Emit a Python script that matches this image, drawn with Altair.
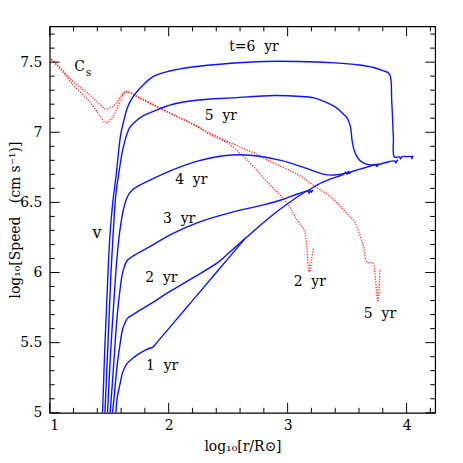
import altair as alt
import pandas as pd

# ---------------- data ----------------
# blue: flow speed v for t = 1..6 yr  (x = log10 r/Rsun, y = log10 speed)
v1_x = [1.556, 1.569, 1.59, 1.611, 1.635, 1.653, 1.70, 1.736, 1.80, 1.847, 1.862, 1.875, 1.90, 2.0, 2.2, 2.4, 2.64]
v1_y = [5.0, 5.117, 5.2, 5.283, 5.33, 5.354, 5.39, 5.413, 5.445, 5.462, 5.465, 5.475, 5.50, 5.60, 5.80, 6.0, 6.24]

v2_x = [1.528, 1.542, 1.569, 1.59, 1.611, 1.635, 1.653, 1.70, 1.736, 1.875, 2.0, 2.2, 2.417, 2.5, 2.64, 2.833, 3.0, 3.17, 3.18, 3.19, 3.2, 3.21]
v2_y = [5.0, 5.117, 5.354, 5.48, 5.59, 5.645, 5.673, 5.70, 5.72, 5.791, 5.86, 5.96, 6.074, 6.135, 6.24, 6.382, 6.49, 6.58, 6.565, 6.585, 6.572, 6.59]

v3_x = [1.508, 1.53, 1.55, 1.569, 1.59, 1.611, 1.635, 1.653, 1.708, 1.833, 2.028, 2.25, 2.528, 2.806, 2.944, 3.083, 3.18, 3.25, 3.361, 3.472, 3.49, 3.50, 3.51, 3.52, 3.53]
v3_y = [5.0, 5.25, 5.5, 5.708, 5.87, 5.992, 6.06, 6.087, 6.122, 6.181, 6.276, 6.358, 6.429, 6.484, 6.517, 6.56, 6.59, 6.625, 6.667, 6.702, 6.715, 6.70, 6.72, 6.705, 6.715]

v4_x = [1.486, 1.51, 1.542, 1.565, 1.59, 1.62, 1.653, 1.69, 1.75, 1.833, 2.028, 2.25, 2.528, 2.694, 2.944, 3.139, 3.306, 3.389, 3.472, 3.5, 3.6, 3.7, 3.74, 3.75, 3.76, 3.77]
v4_y = [5.0, 5.4, 5.83, 6.1, 6.3, 6.45, 6.54, 6.585, 6.62, 6.655, 6.73, 6.796, 6.838, 6.836, 6.80, 6.748, 6.70, 6.695, 6.705, 6.71, 6.735, 6.76, 6.77, 6.755, 6.772, 6.765]

v5_x = [1.464, 1.49, 1.515, 1.535, 1.555, 1.583, 1.61, 1.639, 1.67, 1.708, 1.78, 1.875, 2.028, 2.25, 2.528, 2.889, 3.083, 3.222, 3.361, 3.417, 3.472, 3.5, 3.528, 3.542, 3.561, 3.597, 3.64, 3.667, 3.694, 3.76, 3.85, 3.90, 3.91, 3.92, 3.93]
v5_y = [5.0, 5.5, 6.0, 6.3, 6.55, 6.72, 6.86, 6.96, 7.03, 7.067, 7.115, 7.15, 7.198, 7.23, 7.245, 7.262, 7.257, 7.245, 7.198, 7.17, 7.127, 7.103, 7.04, 6.94, 6.867, 6.808, 6.78, 6.772, 6.767, 6.77, 6.79, 6.795, 6.78, 6.80, 6.80]

v6_x = [1.444, 1.465, 1.485, 1.505, 1.53, 1.556, 1.597, 1.625, 1.653, 1.69, 1.736, 1.80, 1.875, 2.0, 2.2, 2.5, 2.8, 3.083, 3.4, 3.6, 3.722, 3.8, 3.856, 3.875, 3.889, 3.897, 3.94, 3.95, 3.96, 4.0, 4.04, 4.045, 4.05, 4.056]
v6_y = [5.0, 5.5, 5.9, 6.25, 6.5, 6.677, 6.985, 7.09, 7.174, 7.24, 7.292, 7.35, 7.40, 7.435, 7.465, 7.49, 7.505, 7.505, 7.495, 7.48, 7.462, 7.44, 7.415, 7.221, 6.96, 6.824, 6.824, 6.81, 6.826, 6.826, 6.826, 6.81, 6.83, 6.826]

# red dotted: sound speed c_s at t = 2 yr and 5 yr
c2_x = [1.0, 1.1, 1.194, 1.333, 1.42, 1.472, 1.52, 1.556, 1.60, 1.64, 1.75, 1.972, 2.25, 2.333, 2.5, 2.65, 2.833, 3.0, 3.083, 3.139, 3.161, 3.181, 3.20, 3.217]
c2_y = [7.535, 7.45, 7.363, 7.269, 7.20, 7.165, 7.18, 7.205, 7.26, 7.292, 7.245, 7.15, 7.035, 6.99, 6.92, 6.81, 6.642, 6.489, 6.37, 6.30, 6.181, 6.004, 6.09, 6.17]

c5_x = [1.0, 1.1, 1.194, 1.333, 1.42, 1.472, 1.52, 1.556, 1.60, 1.64, 1.75, 1.972, 2.25, 2.333, 2.611, 2.75, 2.833, 3.083, 3.222, 3.361, 3.5, 3.556, 3.583, 3.639, 3.667, 3.717, 3.736, 3.758, 3.765, 3.778]
c5_y = [7.53, 7.44, 7.34, 7.221, 7.12, 7.067, 7.10, 7.15, 7.24, 7.285, 7.25, 7.155, 7.04, 7.00, 6.89, 6.84, 6.80, 6.70, 6.618, 6.54, 6.42, 6.37, 6.323, 6.181, 6.075, 6.067, 5.968, 5.79, 5.85, 6.028]

# annotation labels
lab_text = ["t=6\u00a0\u00a0yr", "5\u00a0\u00a0yr", "4\u00a0\u00a0yr", "3\u00a0\u00a0yr", "2\u00a0\u00a0yr", "1\u00a0\u00a0yr",
            "2\u00a0\u00a0yr", "5\u00a0\u00a0yr"]
lab_x = [2.717, 2.439, 2.19, 2.088, 1.939, 1.945, 3.186, 3.776]
lab_y = [7.611, 7.115, 6.661, 6.382, 5.962, 5.331, 5.933, 5.702]

x_ticks_major = [1, 2, 3, 4]
x_ticks_minor = [1.2, 1.4, 1.6, 1.8, 2.2, 2.4, 2.6, 2.8, 3.2, 3.4, 3.6, 3.8, 4.2]
y_ticks_major = [5, 5.5, 6, 6.5, 7, 7.5]
y_ticks_minor = [round(5 + 0.1 * i, 1) for i in range(1, 28) if i % 5 != 0]

# ---------------- build ----------------
W, H = 388, 389
XD = [1, 4.24]
YD = [5, 7.755]
FONT = "DejaVu Serif"

rows = []
for name, xs_, ys_ in [("1", v1_x, v1_y), ("2", v2_x, v2_y), ("3", v3_x, v3_y),
                       ("4", v4_x, v4_y), ("5", v5_x, v5_y), ("6", v6_x, v6_y)]:
    for i, (a, b) in enumerate(zip(xs_, ys_)):
        rows.append({"s": name, "o": i, "x": a, "y": b})
blue = pd.DataFrame(rows)

rows = []
for name, xs_, ys_ in [("c2", c2_x, c2_y), ("c5", c5_x, c5_y)]:
    for i, (a, b) in enumerate(zip(xs_, ys_)):
        rows.append({"s": name, "o": i, "x": a, "y": b})
red = pd.DataFrame(rows)

labels = pd.DataFrame({"x": lab_x, "y": lab_y, "t": lab_text})

xs = alt.Scale(domain=XD, nice=False, zero=False)
ys = alt.Scale(domain=YD, nice=False, zero=False)

xax = alt.Axis(values=x_ticks_major, format="~g", title="log\u2081\u2080[r/R\u2299]",
               labelPadding=6, titleY=27, titleBaseline="top")
yax = alt.Axis(values=y_ticks_major, format="~g",
               title="log\u2081\u2080[Speed\u00a0\u00a0\u00a0(cm s\u207b\u00b9)]",
               labelPadding=8, titleX=-34, titleY=H / 2, titleBaseline="middle", titleAngle=270)

base_x = alt.X("x:Q", scale=xs, axis=xax)
base_y = alt.Y("y:Q", scale=ys, axis=yax)

blue_l = alt.Chart(blue).mark_line(color="#0a14ff", strokeWidth=1.4, clip=True,
                                   interpolate="catmull-rom").encode(
    x=base_x, y=base_y, detail="s:N", order="o:Q")
red_l = alt.Chart(red).mark_line(color="#ff2a2a", strokeWidth=1.3, strokeDash=[1.3, 1.4], clip=True,
                                 interpolate="catmull-rom").encode(
    x=alt.X("x:Q", scale=xs), y=alt.Y("y:Q", scale=ys), detail="s:N", order="o:Q")

txt = alt.Chart(labels).mark_text(font=FONT, fontSize=14, color="black", baseline="middle").encode(
    x=alt.X("x:Q", scale=xs), y=alt.Y("y:Q", scale=ys), text="t:N")

cs_c = alt.Chart(pd.DataFrame({"x": [1.25], "y": [7.465], "t": ["C"]})).mark_text(
    font=FONT, fontSize=14, color="black", baseline="middle").encode(
    x=alt.X("x:Q", scale=xs), y=alt.Y("y:Q", scale=ys), text="t:N")
cs_s = alt.Chart(pd.DataFrame({"x": [1.326], "y": [7.42], "t": ["s"]})).mark_text(
    font=FONT, fontSize=11, color="black", baseline="middle").encode(
    x=alt.X("x:Q", scale=xs), y=alt.Y("y:Q", scale=ys), text="t:N")
v_lab = alt.Chart(pd.DataFrame({"x": [1.397], "y": [6.285], "t": ["v"]})).mark_text(
    font=FONT, fontSize=16, color="black", baseline="middle").encode(
    x=alt.X("x:Q", scale=xs), y=alt.Y("y:Q", scale=ys), text="t:N")


def xt(vals, y0, y1):
    return alt.Chart(pd.DataFrame({"v": vals})).mark_rule(color="black", strokeWidth=1).encode(
        x=alt.X("v:Q", scale=xs), y=alt.value(y0), y2=alt.value(y1))


def yt(vals, x0, x1):
    return alt.Chart(pd.DataFrame({"v": vals})).mark_rule(color="black", strokeWidth=1).encode(
        y=alt.Y("v:Q", scale=ys), x=alt.value(x0), x2=alt.value(x1))


MJ, MN = 10, 5
ticks = [
    xt(x_ticks_major, H, H - MJ), xt(x_ticks_minor, H, H - MN),
    xt(x_ticks_major, 0, MJ), xt(x_ticks_minor, 0, MN),
    yt(y_ticks_major, 0, MJ), yt(y_ticks_minor, 0, MN),
    yt(y_ticks_major, W, W - MJ), yt(y_ticks_minor, W, W - MN),
]

chart = alt.layer(red_l, blue_l, txt, cs_c, cs_s, v_lab, *ticks).properties(
    width=W, height=H,
    autosize=alt.AutoSizeParams(type="none"),
    padding={"left": 42, "top": 17, "right": 20, "bottom": 40},
    background="white",
).configure_view(stroke="black", strokeWidth=1.2).configure_axis(
    domain=False, ticks=False, grid=False,
    labelFont=FONT, labelFontSize=14, labelColor="black",
    titleFont=FONT, titleFontSize=14, titleColor="black", titleFontWeight="normal",
)

chart.save("out.html", embed_options={"renderer": "svg", "actions": False})
